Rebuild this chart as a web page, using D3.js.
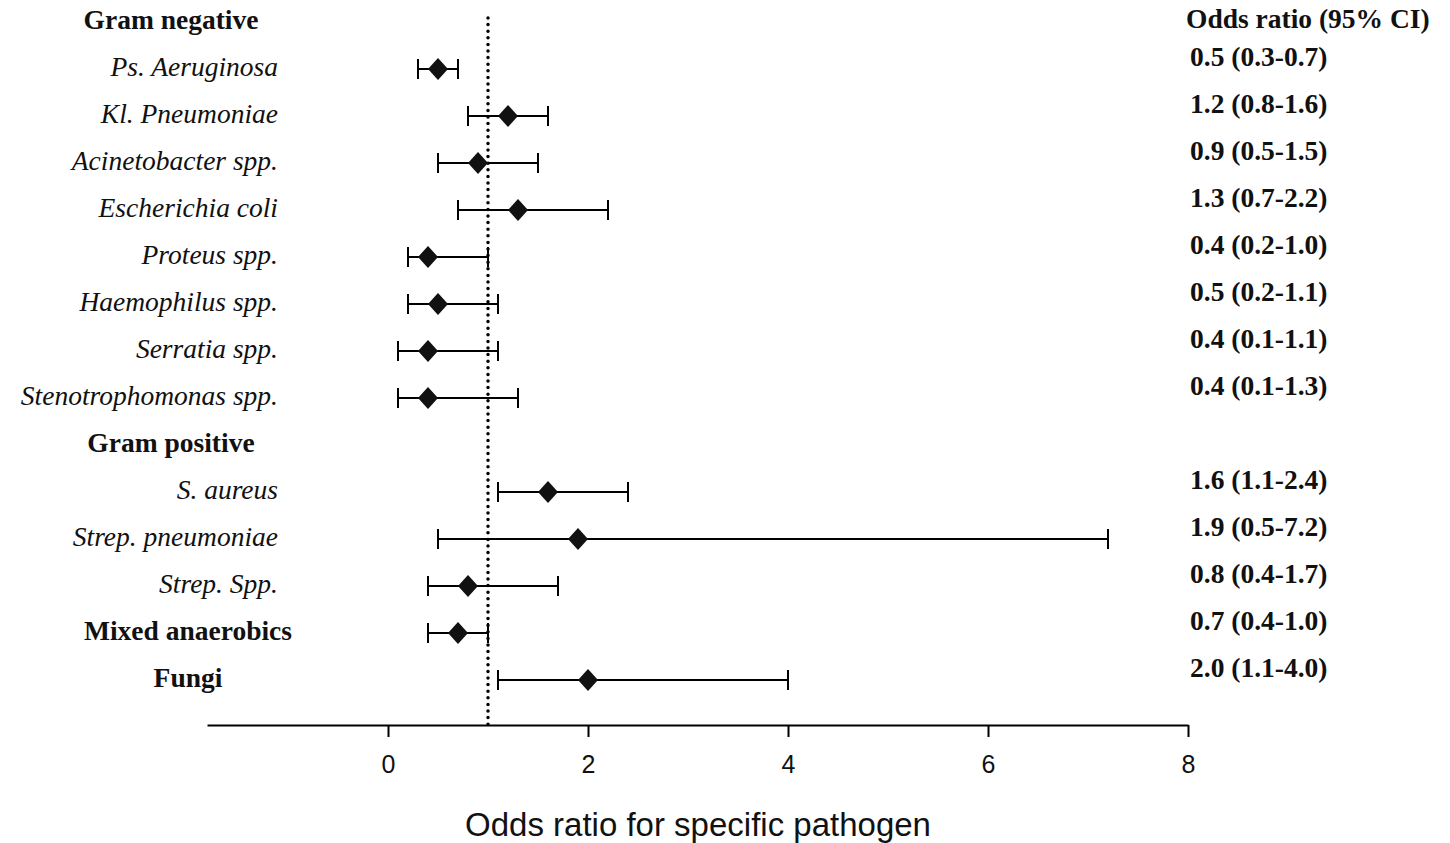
<!DOCTYPE html>
<meta charset="utf-8">
<style>
body { margin: 0; background: #fff; }
.lab { font-family: "Liberation Serif", "Times New Roman", serif; font-size: 27.5px; fill: #111; }
.lab.it { font-style: italic; }
.lab.bd { font-weight: bold; }
.ci { font-family: "Liberation Serif", serif; font-weight: bold; font-size: 27.5px; fill: #111; }
.axis text { font-family: "Liberation Sans", Arial, sans-serif; font-size: 25px; fill: #111; }
.axis path, .axis line { stroke: #000; stroke-width: 2; }
</style>
<svg width="1450" height="843"></svg>
<script src="https://d3js.org/d3.v7.min.js"></script>
<script>

// rows, top to bottom ("group" = header without estimate)
var rowNames = ["Gram negative", "Ps. Aeruginosa", "Kl. Pneumoniae", "Acinetobacter spp.",
  "Escherichia coli", "Proteus spp.", "Haemophilus spp.", "Serratia spp.",
  "Stenotrophomonas spp.", "Gram positive", "S. aureus", "Strep. pneumoniae",
  "Strep. Spp.", "Mixed anaerobics", "Fungi"];
var rowKinds = ["group", "sp", "sp", "sp", "sp", "sp", "sp", "sp", "sp",
  "group", "sp", "sp", "sp", "bold", "bold"];
var oddsRatio = [null, 0.5, 1.2, 0.9, 1.3, 0.4, 0.5, 0.4, 0.4, null, 1.6, 1.9, 0.8, 0.7, 2.0];
var ciLow     = [null, 0.3, 0.8, 0.5, 0.7, 0.2, 0.2, 0.1, 0.1, null, 1.1, 0.5, 0.4, 0.4, 1.1];
var ciHigh    = [null, 0.7, 1.6, 1.5, 2.2, 1.0, 1.1, 1.1, 1.3, null, 2.4, 7.2, 1.7, 1.0, 4.0];
var xTicks = [0, 2, 4, 6, 8];

var svg = d3.select("svg");

var x = d3.scaleLinear().domain([-1.81, 8]).range([207, 1188]);
var y = d3.scalePoint().domain(d3.range(rowNames.length)).range([22, 680]);

var rows = rowNames.map(function(n, i) {
  return { name: n, kind: rowKinds[i], or: oddsRatio[i], lo: ciLow[i], hi: ciHigh[i], i: i };
});

// axis
svg.append("g")
    .attr("class", "axis")
    .attr("transform", "translate(0,725)")
    .call(d3.axisBottom(x).tickValues(xTicks).tickSizeInner(12).tickSizeOuter(0).tickPadding(18))
    .call(function(g) { g.selectAll("text").attr("dy", "0.71em"); });

svg.append("text")
    .attr("x", 698)
    .attr("y", 836)
    .attr("text-anchor", "middle")
    .style("font-family", "'Liberation Sans', Arial, sans-serif")
    .style("font-size", "33px")
    .style("fill", "#111")
    .text("Odds ratio for specific pathogen");

// reference line at OR = 1
svg.append("line")
    .attr("x1", x(1)).attr("x2", x(1))
    .attr("y1", 18).attr("y2", 725)
    .attr("stroke", "#000")
    .attr("stroke-width", 3.5)
    .attr("stroke-linecap", "round")
    .attr("stroke-dasharray", "0 6.6");

// labels
svg.selectAll(".lab")
    .data(rows)
  .enter().append("text")
    .attr("class", function(d) { return "lab " + (d.kind == "sp" ? "it" : "bd"); })
    .attr("x", function(d) { return d.kind == "sp" ? 278 : d.kind == "group" ? 171 : 188; })
    .attr("y", function(d) { return y(d.i) - 3; })
    .attr("dy", "0.35em")
    .attr("text-anchor", function(d) { return d.kind == "sp" ? "end" : "middle"; })
    .text(function(d) { return d.name; });

var est = rows.filter(function(d) { return d.or != null; });

var g = svg.selectAll(".est")
    .data(est)
  .enter().append("g")
    .attr("class", "est")
    .attr("transform", function(d) { return "translate(0," + y(d.i) + ")"; });

g.append("line")
    .attr("x1", function(d) { return x(d.lo); })
    .attr("x2", function(d) { return x(d.hi); })
    .attr("stroke", "#000").attr("stroke-width", 2);

g.selectAll(".cap")
    .data(function(d) { return [d.lo, d.hi]; })
  .enter().append("line")
    .attr("x1", function(v) { return x(v); })
    .attr("x2", function(v) { return x(v); })
    .attr("y1", -10).attr("y2", 10)
    .attr("stroke", "#000").attr("stroke-width", 2);

g.append("path")
    .attr("d", "M0,-11L10,0L0,11L-10,0Z")
    .attr("transform", function(d) { return "translate(" + x(d.or) + ",0)"; })
    .attr("fill", "#111");

// odds ratio column
svg.append("text")
    .attr("class", "ci")
    .attr("x", 1186)
    .attr("y", 18)
    .attr("dy", "0.35em")
    .text("Odds ratio (95% CI)");

svg.selectAll(".civ")
    .data(est)
  .enter().append("text")
    .attr("class", "ci")
    .attr("x", 1190)
    .attr("y", function(d) { return y(d.i) - 13; })
    .attr("dy", "0.35em")
    .text(function(d) { return d.or.toFixed(1) + " (" + d.lo.toFixed(1) + "-" + d.hi.toFixed(1) + ")"; });

</script>
